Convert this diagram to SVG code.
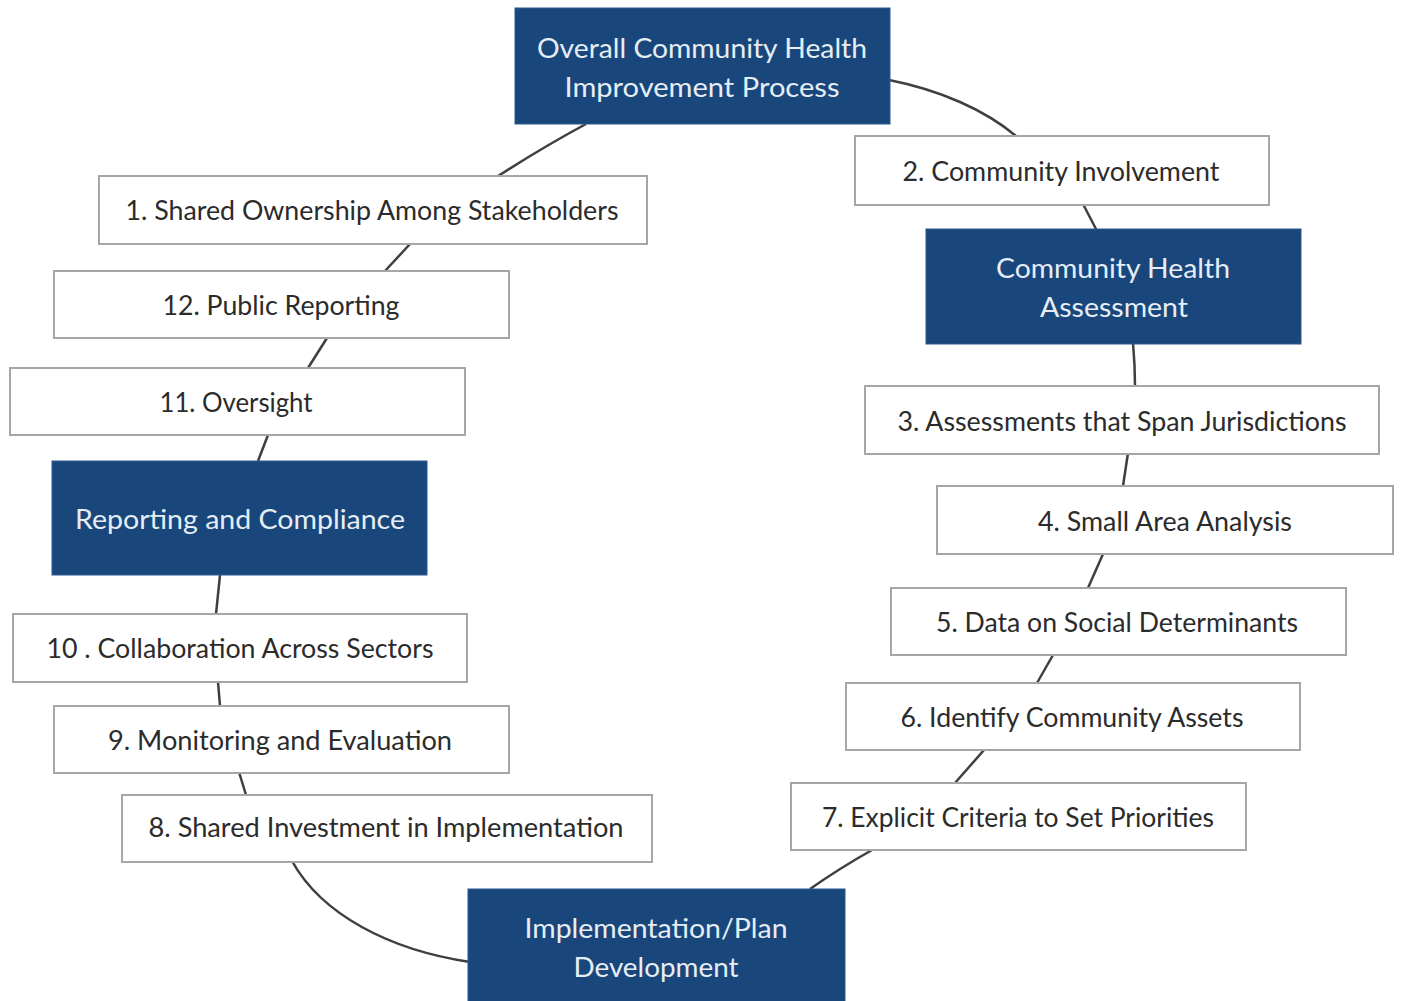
<svg xmlns="http://www.w3.org/2000/svg" width="1406" height="1001" viewBox="0 0 1406 1001">
<style>
.w rect{fill:#fff;stroke:#a6a6a6;stroke-width:2}
.b rect{fill:#19477c;stroke:#2a5a90;stroke-width:1}
text{font-family:Lato,"Open Sans","Liberation Sans",sans-serif;font-size:26px;text-anchor:middle;dominant-baseline:central}
.w text{fill:#2b2b2b}
.b text{fill:#e6edf5}
#connectors path{fill:none;stroke:#3f3f3f;stroke-width:2.5}
</style>
<rect width="1406" height="1001" fill="#fff"/>
<g id="connectors">
<path d="M586,124 Q545,146 498,176"/>
<path d="M410,244 L385,271"/>
<path d="M327,338 L308,368"/>
<path d="M268,435 L258,461"/>
<path d="M220,575 L216,614"/>
<path d="M218,682 L220,706"/>
<path d="M239,772 L246,795"/>
<path d="M292,861 C322,915 390,950 470,962"/>
<path d="M810,889 Q840,868 872,850"/>
<path d="M955,783 L984,750"/>
<path d="M1037,683 L1053,655"/>
<path d="M1088,588 L1103,554"/>
<path d="M1123,486 L1128,453"/>
<path d="M1135,386 Q1135,365 1133,343"/>
<path d="M1096,229 L1083,204"/>
<path d="M889,80 C940,90 985,110 1016,136"/>
</g>
<g id="n-top" class="b"><rect x="515" y="8" width="375" height="116"/><text x="702" y="48" textLength="330" lengthAdjust="spacingAndGlyphs">Overall Community Health</text><text x="702" y="87" textLength="275" lengthAdjust="spacingAndGlyphs">Improvement Process</text></g>
<g id="n2" class="w"><rect x="855" y="136" width="414" height="69"/><text x="1061" y="171" textLength="317" lengthAdjust="spacingAndGlyphs">2. Community Involvement</text></g>
<g id="n-cha" class="b"><rect x="926" y="229" width="375" height="115"/><text x="1113" y="268" textLength="234" lengthAdjust="spacingAndGlyphs">Community Health</text><text x="1114" y="307" textLength="148" lengthAdjust="spacingAndGlyphs">Assessment</text></g>
<g id="n3" class="w"><rect x="865" y="386" width="514" height="68"/><text x="1122" y="421" textLength="449" lengthAdjust="spacingAndGlyphs">3. Assessments that Span Jurisdictions</text></g>
<g id="n4" class="w"><rect x="937" y="486" width="456" height="68"/><text x="1165" y="521" textLength="254" lengthAdjust="spacingAndGlyphs">4. Small Area Analysis</text></g>
<g id="n5" class="w"><rect x="891" y="588" width="455" height="67"/><text x="1117" y="622" textLength="362" lengthAdjust="spacingAndGlyphs">5. Data on Social Determinants</text></g>
<g id="n6" class="w"><rect x="846" y="683" width="454" height="67"/><text x="1072" y="717" textLength="343" lengthAdjust="spacingAndGlyphs">6. Identify Community Assets</text></g>
<g id="n7" class="w"><rect x="791" y="783" width="455" height="67"/><text x="1018" y="817" textLength="392" lengthAdjust="spacingAndGlyphs">7. Explicit Criteria to Set Priorities</text></g>
<g id="n-impl" class="b"><rect x="468" y="889" width="377" height="120"/><text x="656" y="928" textLength="263" lengthAdjust="spacingAndGlyphs">Implementation/Plan</text><text x="656" y="967" textLength="165" lengthAdjust="spacingAndGlyphs">Development</text></g>
<g id="n8" class="w"><rect x="122" y="795" width="530" height="67"/><text x="386" y="827" textLength="475" lengthAdjust="spacingAndGlyphs">8. Shared Investment in Implementation</text></g>
<g id="n9" class="w"><rect x="54" y="706" width="455" height="67"/><text x="280" y="740" textLength="344" lengthAdjust="spacingAndGlyphs">9. Monitoring and Evaluation</text></g>
<g id="n10" class="w"><rect x="13" y="614" width="454" height="68"/><text x="240" y="648" textLength="387" lengthAdjust="spacingAndGlyphs">10 . Collaboration Across Sectors</text></g>
<g id="n-rc" class="b"><rect x="52" y="461" width="375" height="114"/><text x="240" y="519" textLength="330" lengthAdjust="spacingAndGlyphs">Reporting and Compliance</text></g>
<g id="n11" class="w"><rect x="10" y="368" width="455" height="67"/><text x="236" y="402" textLength="153" lengthAdjust="spacingAndGlyphs">11. Oversight</text></g>
<g id="n12" class="w"><rect x="54" y="271" width="455" height="67"/><text x="281" y="305" textLength="237" lengthAdjust="spacingAndGlyphs">12. Public Reporting</text></g>
<g id="n1" class="w"><rect x="99" y="176" width="548" height="68"/><text x="372" y="210" textLength="493" lengthAdjust="spacingAndGlyphs">1. Shared Ownership Among Stakeholders</text></g>
</svg>
